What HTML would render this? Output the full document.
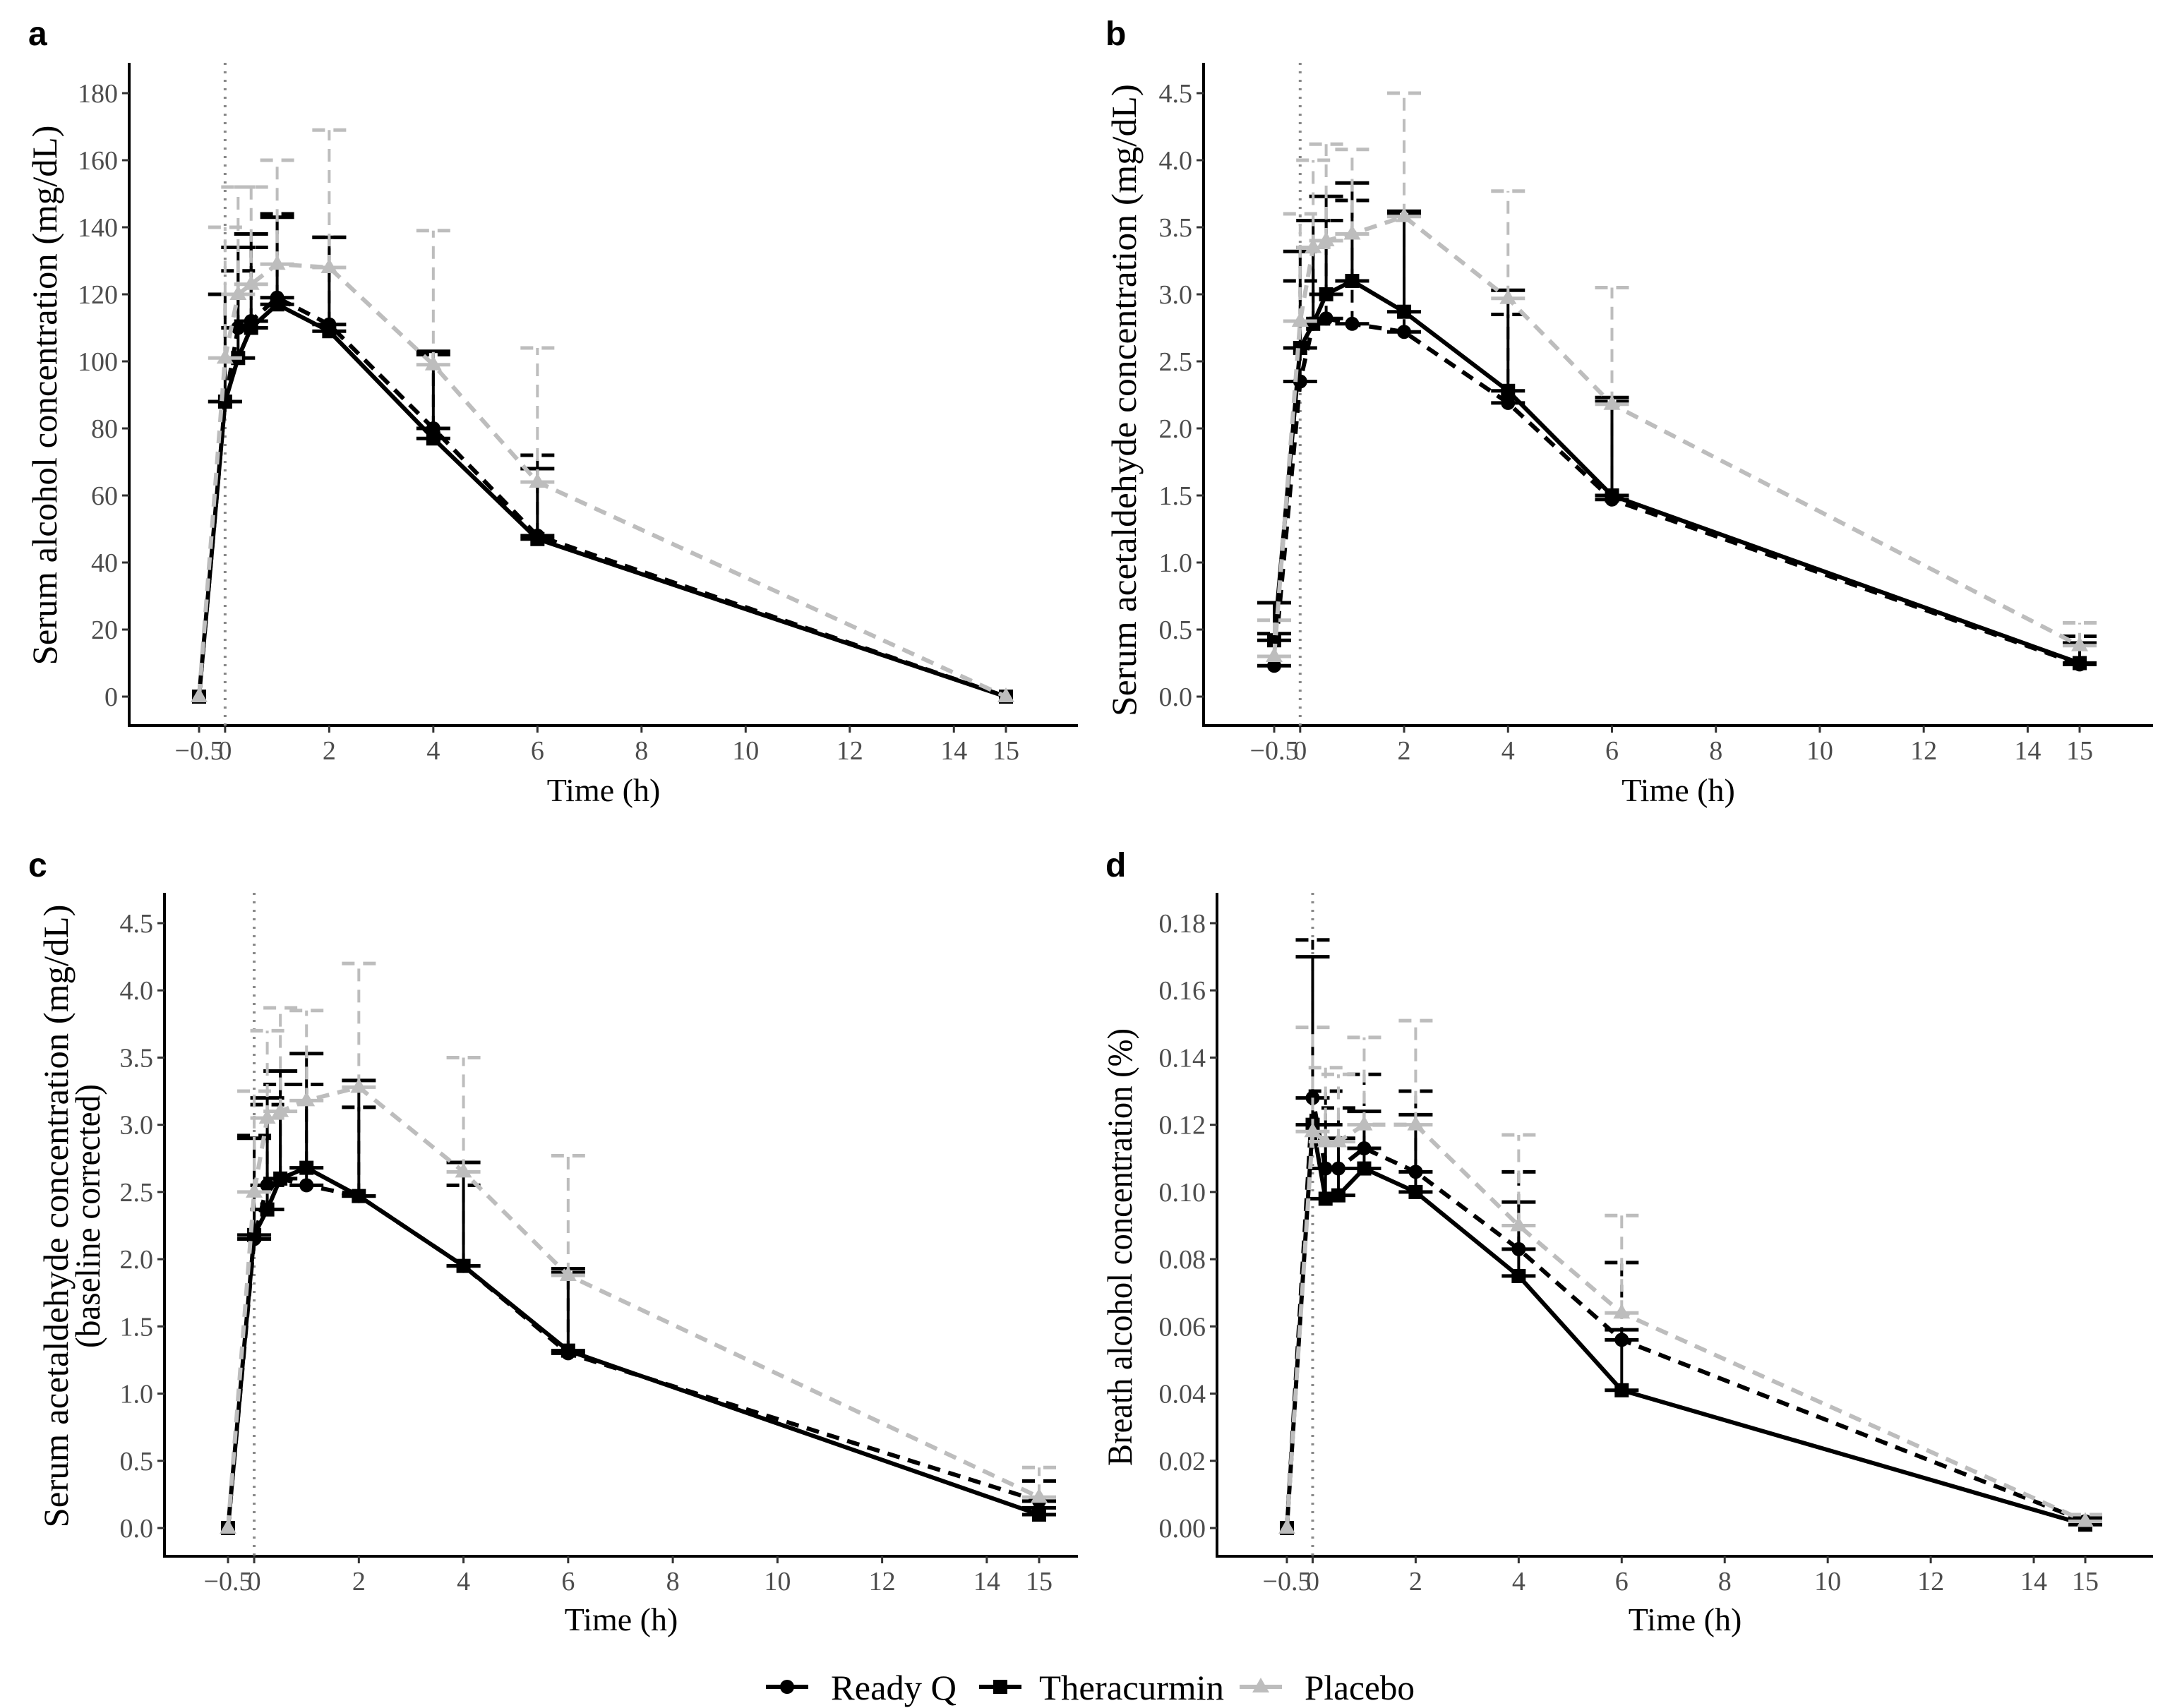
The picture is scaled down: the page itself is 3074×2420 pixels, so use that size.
<!DOCTYPE html>
<html><head><meta charset="utf-8">
<style>
html,body{margin:0;padding:0;background:#fff;}
svg{display:block;}
text{font-family:"Liberation Serif",serif;}
</style></head>
<body>
<svg id="chart" width="3074" height="2420" viewBox="0 0 3074 2420" xmlns="http://www.w3.org/2000/svg"></svg>
<script>
const times = [-0.5, 0, 0.25, 0.5, 1, 2, 4, 6, 15];
const xTicks = [-0.5, 0, 2, 4, 6, 8, 10, 12, 14, 15];
const xTickLabels = ["\u22120.5", "0", "2", "4", "6", "8", "10", "12", "14", "15"];
const seriesNames = ["Ready Q", "Theracurmin", "Placebo"];

const aReady = [0, 88, 110, 112, 119, 111, 80, 48, 0];
const aReadyErr = [0, 120, 127, 134, 144, 137, 102, 72, 0];
const aThera = [0, 88, 101, 110, 117, 109, 77, 47, 0];
const aTheraErr = [0, 120, 134, 138, 143, 137, 103, 68, 0];
const aPlac = [0, 101, 120, 123, 129, 128, 99, 64, 0];
const aPlacErr = [0, 140, 152, 152, 160, 169, 139, 104, 0];
const aTicks = [0, 20, 40, 60, 80, 100, 120, 140, 160, 180];

const bReady = [0.23, 2.35, 2.78, 2.82, 2.78, 2.72, 2.19, 1.47, 0.24];
const bReadyErr = [0.47, 3.1, 3.35, 3.55, 3.7, 3.6, 2.85, 2.2, 0.45];
const bThera = [0.42, 2.6, 2.78, 3.0, 3.1, 2.87, 2.28, 1.5, 0.25];
const bTheraErr = [0.7, 3.32, 3.55, 3.73, 3.83, 3.62, 3.03, 2.23, 0.4];
const bPlac = [0.3, 2.8, 3.35, 3.4, 3.45, 3.58, 2.97, 2.18, 0.38];
const bPlacErr = [0.57, 3.6, 4.0, 4.12, 4.08, 4.5, 3.77, 3.05, 0.55];
const bTicks = [0, 0.5, 1, 1.5, 2, 2.5, 3, 3.5, 4, 4.5];

const cReady = [0, 2.15, 2.55, 2.6, 2.55, 2.47, 1.95, 1.3, 0.2];
const cReadyErr = [0, 2.92, 3.15, 3.3, 3.3, 3.13, 2.55, 1.9, 0.35];
const cThera = [0, 2.18, 2.37, 2.6, 2.68, 2.47, 1.95, 1.32, 0.1];
const cTheraErr = [0, 2.9, 3.2, 3.4, 3.53, 3.33, 2.72, 1.93, 0.15];
const cPlac = [0, 2.5, 3.05, 3.1, 3.18, 3.28, 2.65, 1.88, 0.23];
const cPlacErr = [0, 3.25, 3.7, 3.87, 3.85, 4.2, 3.5, 2.77, 0.45];
const cTicks = [0, 0.5, 1, 1.5, 2, 2.5, 3, 3.5, 4, 4.5];

const dReady = [0, 0.128, 0.107, 0.107, 0.113, 0.106, 0.083, 0.056, 0.002];
const dReadyErr = [0, 0.175, 0.13, 0.125, 0.135, 0.13, 0.106, 0.079, 0.003];
const dThera = [0, 0.12, 0.098, 0.099, 0.107, 0.1, 0.075, 0.041, 0.001];
const dTheraErr = [0, 0.17, 0.12, 0.116, 0.124, 0.123, 0.097, 0.059, 0.002];
const dPlac = [0, 0.118, 0.115, 0.115, 0.12, 0.12, 0.09, 0.064, 0.002];
const dPlacErr = [0, 0.149, 0.137, 0.135, 0.146, 0.151, 0.117, 0.093, 0.004];
const dTicks = [0, 0.02, 0.04, 0.06, 0.08, 0.1, 0.12, 0.14, 0.16, 0.18];

const NS = "http://www.w3.org/2000/svg";
const svg = document.getElementById("chart");
function mk(tag, attrs, parent) {
  const e = document.createElementNS(NS, tag);
  for (const k in attrs) e.setAttribute(k, attrs[k]);
  (parent || svg).appendChild(e);
  return e;
}

const styles = [
  {color: "#000", dash: "18,12", marker: "circle"},
  {color: "#000", dash: "none", marker: "square"},
  {color: "#bdbdbd", dash: "18,12", marker: "triangle"}
];

function marker(g, type, x, y, color, r) {
  if (type === "circle") return mk("circle", {cx: x, cy: y, r: r, fill: color}, g);
  if (type === "square") return mk("rect", {x: x - r, y: y - r, width: 2 * r, height: 2 * r, fill: color}, g);
  return mk("polygon", {points: `${x},${y - r * 1.3} ${x - r * 1.2},${y + r * 0.8} ${x + r * 1.2},${y + r * 0.8}`, fill: color}, g);
}

const panels = [
  {id: "a", axL: 183, x0: 282, x1: 1425, yTop: 89, y0: 987, yMax: 180, yMaxPx: 132, bottom: 1028, right: 1527,
   ticks: aTicks, dec: 0, series: [[aReady, aReadyErr], [aThera, aTheraErr], [aPlac, aPlacErr]],
   title: ["Serum alcohol concentration (mg/dL)"], titleX: [63], titleLen: [765], titleCy: 560, letterX: 40, letterY: 64, timeY: 1135},
  {id: "b", axL: 1705, x0: 1805, x1: 2946, yTop: 89, y0: 987, yMax: 4.5, yMaxPx: 132, bottom: 1028, right: 3050,
   ticks: bTicks, dec: 1, series: [[bReady, bReadyErr], [bThera, bTheraErr], [bPlac, bPlacErr]],
   title: ["Serum acetaldehyde concentration (mg/dL)"], titleX: [1592], titleLen: [896], titleCy: 567, letterX: 1566, letterY: 64, timeY: 1135},
  {id: "c", axL: 233, x0: 323, x1: 1472, yTop: 1265, y0: 2165, yMax: 4.5, yMaxPx: 1308, bottom: 2205, right: 1527,
   ticks: cTicks, dec: 1, series: [[cReady, cReadyErr], [cThera, cTheraErr], [cPlac, cPlacErr]],
   title: ["Serum acetaldehyde concentration (mg/dL)", "(baseline corrected)"], titleX: [79, 124], titleLen: [883, 374], titleCy: 1723, letterX: 40, letterY: 1242, timeY: 2310},
  {id: "d", axL: 1724, x0: 1823, x1: 2954, yTop: 1265, y0: 2165, yMax: 0.18, yMaxPx: 1308, bottom: 2205, right: 3050,
   ticks: dTicks, dec: 2, series: [[dReady, dReadyErr], [dThera, dTheraErr], [dPlac, dPlacErr]],
   title: ["Breath alcohol concentration (%)"], titleX: [1586], titleLen: [620], titleCy: 1767, letterX: 1566, letterY: 1242, timeY: 2310}
];

panels.forEach(p => {
  const g = mk("g", {});
  
  
  const xs = t => p.x0 + (t + 0.5) * (p.x1 - p.x0) / 15.5;
  const ys = v => p.y0 - v * (p.y0 - p.yMaxPx) / p.yMax;

  const letter = mk("text", {x: p.letterX, y: p.letterY, "font-size": 48, "font-weight": "bold", style: "font-family:'Liberation Sans',sans-serif"}, g);
  letter.textContent = p.id;
  
  

  const axes = mk("path", {d: `M${p.axL},${p.yTop} V${p.bottom} H${p.right}`, stroke: "#000", "stroke-width": 4, fill: "none"}, g);
  
  

  p.ticks.forEach(v => {
    const y = ys(v);
    mk("line", {x1: p.axL - 10, x2: p.axL, y1: y, y2: y, stroke: "#333", "stroke-width": 3}, g);
    const t = mk("text", {x: p.axL - 16, y: y + 13, "font-size": 38, fill: "#4d4d4d", "text-anchor": "end"}, g);
    t.textContent = v.toFixed(p.dec);
    
    
  });
  xTicks.forEach((v, i) => {
    const x = xs(v);
    mk("line", {x1: x, x2: x, y1: p.bottom, y2: p.bottom + 10, stroke: "#333", "stroke-width": 3}, g);
    const t = mk("text", {x: x, y: p.bottom + 48, "font-size": 38, fill: "#4d4d4d", "text-anchor": "middle"}, g);
    t.textContent = xTickLabels[i];
    
    
  });
  const xt = mk("text", {x: (p.axL + p.right) / 2, y: p.timeY, "font-size": 46, "text-anchor": "middle"}, g);
  xt.textContent = "Time (h)";
  
  
  p.title.forEach((s, i) => {
    const cy = p.titleCy;
    const yt = mk("text", {x: p.titleX[i], y: cy, "font-size": 50, "text-anchor": "middle", "dominant-baseline": "central", textLength: p.titleLen[i], lengthAdjust: "spacingAndGlyphs", transform: `rotate(-90 ${p.titleX[i]} ${cy})`}, g);
    yt.textContent = s;
    
    
  });

  const vl = mk("line", {x1: xs(0), x2: xs(0), y1: p.yTop, y2: p.bottom, stroke: "#888", "stroke-width": 4, "stroke-dasharray": "3,9"}, g);
  
  

  [0, 1, 2].forEach(si => {
    const st = styles[si];
    const [vals, errs] = p.series[si];
    const sg = mk("g", {}, g);
    
    
    times.forEach((t, i) => {
      if (errs[i] > vals[i]) {
        const x = xs(t), y1 = ys(vals[i]), y2 = ys(errs[i]);
        const da = st.dash === "none" ? {} : {"stroke-dasharray": st.dash};
        const eb = mk("line", Object.assign({x1: x, x2: x, y1: y1, y2: y2, stroke: st.color, "stroke-width": 4}, da), sg);
        
        
        mk("line", Object.assign({x1: x - 24, x2: x + 24, y1: y2, y2: y2, stroke: st.color, "stroke-width": 5}, da), sg);
        mk("line", Object.assign({x1: x - 24, x2: x + 24, y1: y1, y2: y1, stroke: st.color, "stroke-width": 5}, da), sg);
      }
    });
    const pts = times.map((t, i) => `${xs(t)},${ys(vals[i])}`).join(" ");
    const attrs = {points: pts, fill: "none", stroke: st.color, "stroke-width": 6, "stroke-linejoin": "round"};
    if (st.dash !== "none") attrs["stroke-dasharray"] = st.dash;
    const ln = mk("polyline", attrs, sg);
    
    
    times.forEach((t, i) => {
      const m = marker(sg, st.marker, xs(t), ys(vals[i]), st.color, 10);
      
      
    });
  });
});

const lg = mk("g", {});


const legX = [1085, 1387, 1756];
const legTextX = [1177, 1472, 1848];
const legTextLen = [178, 262, 156];
seriesNames.forEach((n, i) => {
  const st = styles[i];
  const eg = mk("g", {}, lg);
  
  
  const y = 2390;
  mk("line", {x1: legX[i], x2: legX[i] + 60, y1: y, y2: y, stroke: st.color, "stroke-width": 6}, eg);
  marker(eg, st.marker, legX[i] + 30, y, st.color, 10);
  const t = mk("text", {x: legTextX[i], y: y + 18, "font-size": 50, textLength: legTextLen[i], lengthAdjust: "spacingAndGlyphs"}, eg);
  t.textContent = n;
});
</script>
</body></html>
